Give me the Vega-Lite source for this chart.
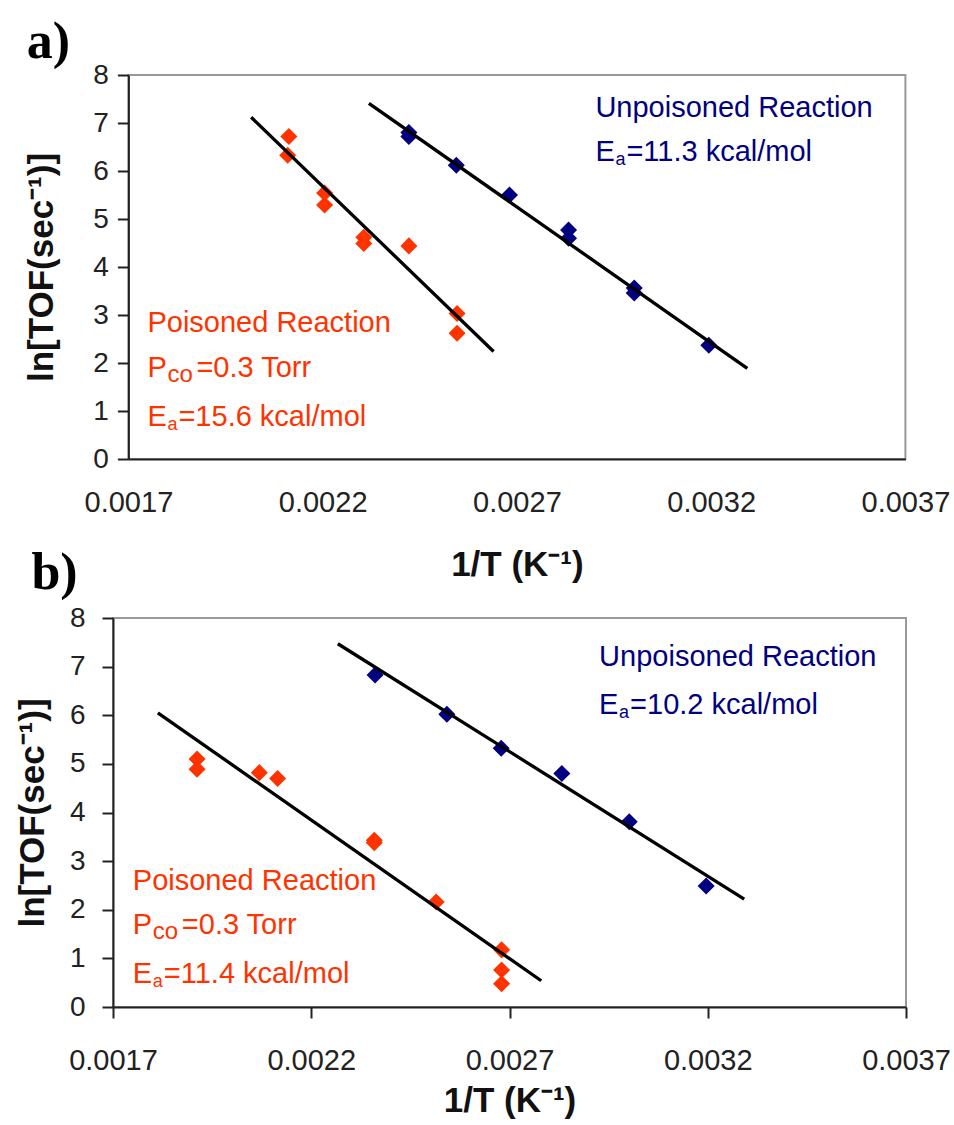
{
  "$schema": "https://vega.github.io/schema/vega-lite/v6.json",
  "background": "white",
  "padding": {"left": 14, "top": 15, "right": 0, "bottom": 0},
  "config": {
    "font": "Liberation Sans",
    "view": {"stroke": "#999999", "strokeWidth": 2},
    "axis": {
      "grid": false,
      "domainColor": "#222222",
      "domainWidth": 2,
      "tickColor": "#222222",
      "tickWidth": 2,
      "labelFont": "Liberation Sans",
      "labelFontSize": 28,
      "labelColor": "#222222",
      "labelFlush": false,
      "labelOverlap": false,
      "titleFont": "Liberation Sans",
      "titleFontSize": 35,
      "titleFontWeight": "bold",
      "titleColor": "#111111"
    },
    "title": {"font": "Liberation Serif", "fontSize": 52, "fontWeight": "bold", "anchor": "start", "frame": "bounds", "color": "#000000"}
  },
  "datasets": {
    "points": [
      {"panel": "a", "series": "Poisoned", "x": 0.002113, "y": 6.72},
      {"panel": "a", "series": "Poisoned", "x": 0.00211, "y": 6.33},
      {"panel": "a", "series": "Poisoned", "x": 0.002205, "y": 5.54},
      {"panel": "a", "series": "Poisoned", "x": 0.002205, "y": 5.29},
      {"panel": "a", "series": "Poisoned", "x": 0.002306, "y": 4.62},
      {"panel": "a", "series": "Poisoned", "x": 0.002306, "y": 4.49},
      {"panel": "a", "series": "Poisoned", "x": 0.002422, "y": 4.44},
      {"panel": "a", "series": "Poisoned", "x": 0.002546, "y": 3.03},
      {"panel": "a", "series": "Poisoned", "x": 0.002546, "y": 2.62},
      {"panel": "a", "series": "Unpoisoned", "x": 0.002422, "y": 6.8},
      {"panel": "a", "series": "Unpoisoned", "x": 0.002422, "y": 6.72},
      {"panel": "a", "series": "Unpoisoned", "x": 0.002544, "y": 6.12},
      {"panel": "a", "series": "Unpoisoned", "x": 0.002681, "y": 5.5},
      {"panel": "a", "series": "Unpoisoned", "x": 0.002833, "y": 4.77},
      {"panel": "a", "series": "Unpoisoned", "x": 0.002833, "y": 4.6},
      {"panel": "a", "series": "Unpoisoned", "x": 0.003002, "y": 3.56},
      {"panel": "a", "series": "Unpoisoned", "x": 0.003002, "y": 3.46},
      {"panel": "a", "series": "Unpoisoned", "x": 0.003194, "y": 2.37},
      {"panel": "b", "series": "Poisoned", "x": 0.001912, "y": 5.1},
      {"panel": "b", "series": "Poisoned", "x": 0.001912, "y": 4.89},
      {"panel": "b", "series": "Poisoned", "x": 0.002069, "y": 4.82},
      {"panel": "b", "series": "Poisoned", "x": 0.002115, "y": 4.7},
      {"panel": "b", "series": "Poisoned", "x": 0.002359, "y": 3.43},
      {"panel": "b", "series": "Poisoned", "x": 0.002359, "y": 3.38},
      {"panel": "b", "series": "Poisoned", "x": 0.002515, "y": 2.16},
      {"panel": "b", "series": "Poisoned", "x": 0.00268, "y": 1.175},
      {"panel": "b", "series": "Poisoned", "x": 0.00268, "y": 0.76},
      {"panel": "b", "series": "Poisoned", "x": 0.00268, "y": 0.48},
      {"panel": "b", "series": "Unpoisoned", "x": 0.002361, "y": 6.83},
      {"panel": "b", "series": "Unpoisoned", "x": 0.002542, "y": 6.02},
      {"panel": "b", "series": "Unpoisoned", "x": 0.002679, "y": 5.32},
      {"panel": "b", "series": "Unpoisoned", "x": 0.002832, "y": 4.8},
      {"panel": "b", "series": "Unpoisoned", "x": 0.003002, "y": 3.81},
      {"panel": "b", "series": "Unpoisoned", "x": 0.003196, "y": 2.49}
    ],
    "fits": [
      {"panel": "a", "series": "Poisoned", "x": 0.002016, "y": 7.12},
      {"panel": "a", "series": "Poisoned", "x": 0.00264, "y": 2.24},
      {"panel": "a", "series": "Unpoisoned", "x": 0.002319, "y": 7.41},
      {"panel": "a", "series": "Unpoisoned", "x": 0.003293, "y": 1.89},
      {"panel": "b", "series": "Poisoned", "x": 0.001813, "y": 6.05},
      {"panel": "b", "series": "Poisoned", "x": 0.00278, "y": 0.54},
      {"panel": "b", "series": "Unpoisoned", "x": 0.002267, "y": 7.47},
      {"panel": "b", "series": "Unpoisoned", "x": 0.003292, "y": 2.22}
    ],
    "notes": [
      {"panel": "a", "series": "Unpoisoned", "kind": "plain", "x": 0.002902, "y": 7.31, "pre": "Unpoisoned Reaction", "sub": "", "rest": ""},
      {"panel": "a", "series": "Unpoisoned", "kind": "Ea", "x": 0.002902, "y": 6.4, "pre": "E", "sub": "a", "rest": "=11.3 kcal/mol"},
      {"panel": "a", "series": "Poisoned", "kind": "plain", "x": 0.001749, "y": 2.83, "pre": "Poisoned Reaction", "sub": "", "rest": ""},
      {"panel": "a", "series": "Poisoned", "kind": "Pco", "x": 0.001749, "y": 1.9, "pre": "P", "sub": "co", "rest": "=0.3 Torr"},
      {"panel": "a", "series": "Poisoned", "kind": "Ea", "x": 0.001749, "y": 0.875, "pre": "E", "sub": "a", "rest": "=15.6 kcal/mol"},
      {"panel": "b", "series": "Unpoisoned", "kind": "plain", "x": 0.002926, "y": 7.2, "pre": "Unpoisoned Reaction", "sub": "", "rest": ""},
      {"panel": "b", "series": "Unpoisoned", "kind": "Ea", "x": 0.002926, "y": 6.22, "pre": "E", "sub": "a", "rest": "=10.2 kcal/mol"},
      {"panel": "b", "series": "Poisoned", "kind": "plain", "x": 0.00175, "y": 2.59, "pre": "Poisoned Reaction", "sub": "", "rest": ""},
      {"panel": "b", "series": "Poisoned", "kind": "Pco", "x": 0.00175, "y": 1.69, "pre": "P", "sub": "co", "rest": "=0.3 Torr"},
      {"panel": "b", "series": "Poisoned", "kind": "Ea", "x": 0.00175, "y": 0.685, "pre": "E", "sub": "a", "rest": "=11.4 kcal/mol"}
    ]
  },
  "vconcat": [
    {"hconcat": [
      {"width": 1, "height": 1, "data": {"values": []}, "mark": "point", "encoding": {}, "view": {"stroke": null}},
      {
        "title": {"text": "a)", "offset": -8, "dx": 2},
        "width": 777,
        "height": 384,
        "encoding": {
          "x": {"field": "x", "type": "quantitative",
            "scale": {"domain": [0.0017, 0.0037], "nice": false, "zero": false},
            "axis": {"values": [0.0017, 0.0022, 0.0027, 0.0032, 0.0037], "format": ".4f", "title": "1/T (K⁻¹)", "ticks": false, "tickSize": 0, "labelFontSize": 29, "labelPadding": 29, "titlePadding": 30}},
          "y": {"field": "y", "type": "quantitative",
            "scale": {"domain": [0, 8], "nice": false, "zero": false},
            "axis": {"values": [0, 1, 2, 3, 4, 5, 6, 7, 8], "format": "d", "title": "ln[TOF(sec⁻¹)]", "tickSize": 11, "labelPadding": 9, "titlePadding": 33}}
        },
        "layer": [
          {"data": {"name": "points"}, "transform": [{"filter": "datum.panel == 'a'"}],
            "mark": {"type": "point", "shape": "diamond", "filled": true, "size": 290, "opacity": 1},
            "encoding": {"color": {"field": "series", "type": "nominal", "scale": {"domain": ["Poisoned", "Unpoisoned"], "range": ["#ff3300", "#000080"]}, "legend": null}}},
          {"data": {"name": "fits"}, "transform": [{"filter": "datum.panel == 'a'"}],
            "mark": {"type": "line", "color": "#000000", "strokeWidth": 3.3},
            "encoding": {"detail": {"field": "series"}}},
          {"data": {"name": "notes"}, "transform": [{"filter": "datum.panel == 'a'"}],
            "mark": {"type": "text", "align": "left", "baseline": "middle", "fontSize": 29},
            "encoding": {"text": {"field": "pre"}, "color": {"field": "series", "type": "nominal", "legend": null}}},
          {"data": {"name": "notes"}, "transform": [{"filter": "datum.panel == 'a' && datum.kind == 'Ea'"}],
            "mark": {"type": "text", "align": "left", "baseline": "middle", "fontSize": 18, "dx": 20, "dy": 8},
            "encoding": {"text": {"field": "sub"}, "color": {"field": "series", "type": "nominal", "legend": null}}},
          {"data": {"name": "notes"}, "transform": [{"filter": "datum.panel == 'a' && datum.kind == 'Pco'"}],
            "mark": {"type": "text", "align": "left", "baseline": "middle", "fontSize": 24, "dx": 20, "dy": 7},
            "encoding": {"text": {"field": "sub"}, "color": {"field": "series", "type": "nominal", "legend": null}}},
          {"data": {"name": "notes"}, "transform": [{"filter": "datum.panel == 'a' && datum.kind == 'Ea'"}],
            "mark": {"type": "text", "align": "left", "baseline": "middle", "fontSize": 29, "dx": 31},
            "encoding": {"text": {"field": "rest"}, "color": {"field": "series", "type": "nominal", "legend": null}}},
          {"data": {"name": "notes"}, "transform": [{"filter": "datum.panel == 'a' && datum.kind == 'Pco'"}],
            "mark": {"type": "text", "align": "left", "baseline": "middle", "fontSize": 29, "dx": 49},
            "encoding": {"text": {"field": "rest"}, "color": {"field": "series", "type": "nominal", "legend": null}}}
        ]
      }
    ], "spacing": -90.6},
    {
      "title": {"text": "b)", "offset": 4, "dx": 16},
      "width": 793,
      "height": 389,
      "encoding": {
        "x": {"field": "x", "type": "quantitative",
          "scale": {"domain": [0.0017, 0.0037], "nice": false, "zero": false},
          "axis": {"values": [0.0017, 0.0022, 0.0027, 0.0032, 0.0037], "format": ".4f", "title": "1/T (K⁻¹)", "tickSize": 11, "labelFontSize": 29, "labelPadding": 28, "titlePadding": 8}},
        "y": {"field": "y", "type": "quantitative",
          "scale": {"domain": [0, 8], "nice": false, "zero": false},
          "axis": {"values": [0, 1, 2, 3, 4, 5, 6, 7, 8], "format": "d", "title": "ln[TOF(sec⁻¹)]", "tickSize": 11, "labelPadding": 17, "titlePadding": 19}}
      },
      "layer": [
        {"data": {"name": "points"}, "transform": [{"filter": "datum.panel == 'b'"}],
          "mark": {"type": "point", "shape": "diamond", "filled": true, "size": 290, "opacity": 1},
          "encoding": {"color": {"field": "series", "type": "nominal", "scale": {"domain": ["Poisoned", "Unpoisoned"], "range": ["#ff3300", "#000080"]}, "legend": null}}},
        {"data": {"name": "fits"}, "transform": [{"filter": "datum.panel == 'b'"}],
          "mark": {"type": "line", "color": "#000000", "strokeWidth": 3.3},
          "encoding": {"detail": {"field": "series"}}},
        {"data": {"name": "notes"}, "transform": [{"filter": "datum.panel == 'b'"}],
          "mark": {"type": "text", "align": "left", "baseline": "middle", "fontSize": 29},
          "encoding": {"text": {"field": "pre"}, "color": {"field": "series", "type": "nominal", "legend": null}}},
        {"data": {"name": "notes"}, "transform": [{"filter": "datum.panel == 'b' && datum.kind == 'Ea'"}],
          "mark": {"type": "text", "align": "left", "baseline": "middle", "fontSize": 18, "dx": 20, "dy": 8},
          "encoding": {"text": {"field": "sub"}, "color": {"field": "series", "type": "nominal", "legend": null}}},
        {"data": {"name": "notes"}, "transform": [{"filter": "datum.panel == 'b' && datum.kind == 'Pco'"}],
          "mark": {"type": "text", "align": "left", "baseline": "middle", "fontSize": 24, "dx": 20, "dy": 7},
          "encoding": {"text": {"field": "sub"}, "color": {"field": "series", "type": "nominal", "legend": null}}},
        {"data": {"name": "notes"}, "transform": [{"filter": "datum.panel == 'b' && datum.kind == 'Ea'"}],
          "mark": {"type": "text", "align": "left", "baseline": "middle", "fontSize": 29, "dx": 31},
          "encoding": {"text": {"field": "rest"}, "color": {"field": "series", "type": "nominal", "legend": null}}},
        {"data": {"name": "notes"}, "transform": [{"filter": "datum.panel == 'b' && datum.kind == 'Pco'"}],
          "mark": {"type": "text", "align": "left", "baseline": "middle", "fontSize": 29, "dx": 49},
          "encoding": {"text": {"field": "rest"}, "color": {"field": "series", "type": "nominal", "legend": null}}}
      ]
    }
  ],
  "spacing": -37
}
